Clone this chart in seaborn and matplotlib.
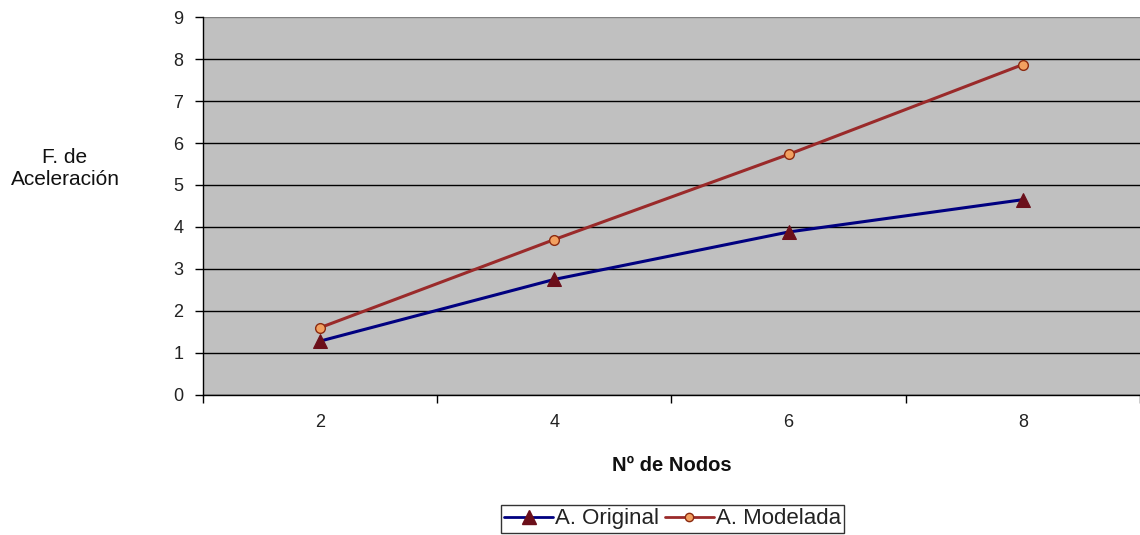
import matplotlib
matplotlib.use("Agg")
import matplotlib.pyplot as plt
from matplotlib.ticker import FixedLocator
from matplotlib.lines import Line2D
import seaborn as sns
import pandas as pd

nodos = ["2", "4", "6", "8"]
original = [1.28, 2.75, 3.88, 4.65]
modelada = [1.6, 3.7, 5.73, 7.87]

sns.set_theme(style="white")
plt.rcParams["font.family"] = ["Liberation Sans", "DejaVu Sans"]

df = pd.DataFrame({"nodos": nodos, "original": original, "modelada": modelada})

fig = plt.figure(figsize=(11.4, 5.35), dpi=100)
ax = fig.add_axes([0.178, 0.262, 0.822, 0.706])
ax.set_facecolor("#C0C0C0")

sns.lineplot(data=df, x="nodos", y="original", ax=ax, color="#000080", lw=2.2,
             marker="^", markersize=10, markerfacecolor="#6B0F1A",
             markeredgecolor="#6B0F1A", sort=False)
sns.lineplot(data=df, x="nodos", y="modelada", ax=ax, color="#9A2A2A", lw=2.2,
             marker="o", markersize=7, markerfacecolor="#F2A060",
             markeredgecolor="#8B2A10", markeredgewidth=1, sort=False)

ax.set_ylim(0, 9)
ax.set_xlim(-0.5, 3.5)
ax.set_yticks(range(0, 10))
ax.yaxis.grid(True, color="black", lw=1)
ax.set_axisbelow(True)
# plot-area border along the top edge is grey, not a black gridline
ax.yaxis.get_gridlines()[-1].set_color("#808080")

# category labels centred, tick marks on the category boundaries
ax.set_xticks(range(len(nodos)))
ax.set_xticklabels(nodos)
ax.xaxis.set_minor_locator(FixedLocator([-0.5, 0.5, 1.5, 2.5, 3.5]))
ax.tick_params(axis="x", which="major", length=0, pad=14, labelsize=13, colors="#222222")
ax.tick_params(axis="x", which="minor", length=6, width=1, color="black", direction="out", bottom=True)
ax.tick_params(axis="y", length=6, width=1, color="black", direction="out", left=True,
               pad=8, labelsize=13, labelcolor="#222222")

for side in ["top", "right"]:
    ax.spines[side].set_visible(False)
for side in ["left", "bottom"]:
    ax.spines[side].set_color("black")
    ax.spines[side].set_linewidth(1)

ax.set_xlabel("Nº de Nodos", fontsize=14.5, fontweight="bold", labelpad=18, color="#111111")
ax.set_ylabel("")
fig.text(0.057, 0.685, "F. de\nAceleración", ha="center", va="center",
         fontsize=15, color="#111111", linespacing=1.2)

handles = [
    Line2D([], [], color="#000080", lw=2, marker="^", markersize=10,
           markerfacecolor="#6B0F1A", markeredgecolor="#6B0F1A"),
    Line2D([], [], color="#9A2A2A", lw=2, marker="o", markersize=6,
           markerfacecolor="#F2A060", markeredgecolor="#8B2A10"),
]
leg = fig.legend(handles, ["A. Original", "A. Modelada"], loc="center",
                 bbox_to_anchor=(0.590, 0.030), ncol=2, frameon=True, fancybox=False,
                 fontsize=16, handlelength=2.2, handletextpad=0.1, columnspacing=0.25,
                 borderpad=0.15, borderaxespad=0)
leg.get_frame().set_edgecolor("black")
leg.get_frame().set_linewidth(1)
for t in leg.get_texts():
    t.set_color("#222222")

fig.savefig("out.png", dpi=100, facecolor="white")
